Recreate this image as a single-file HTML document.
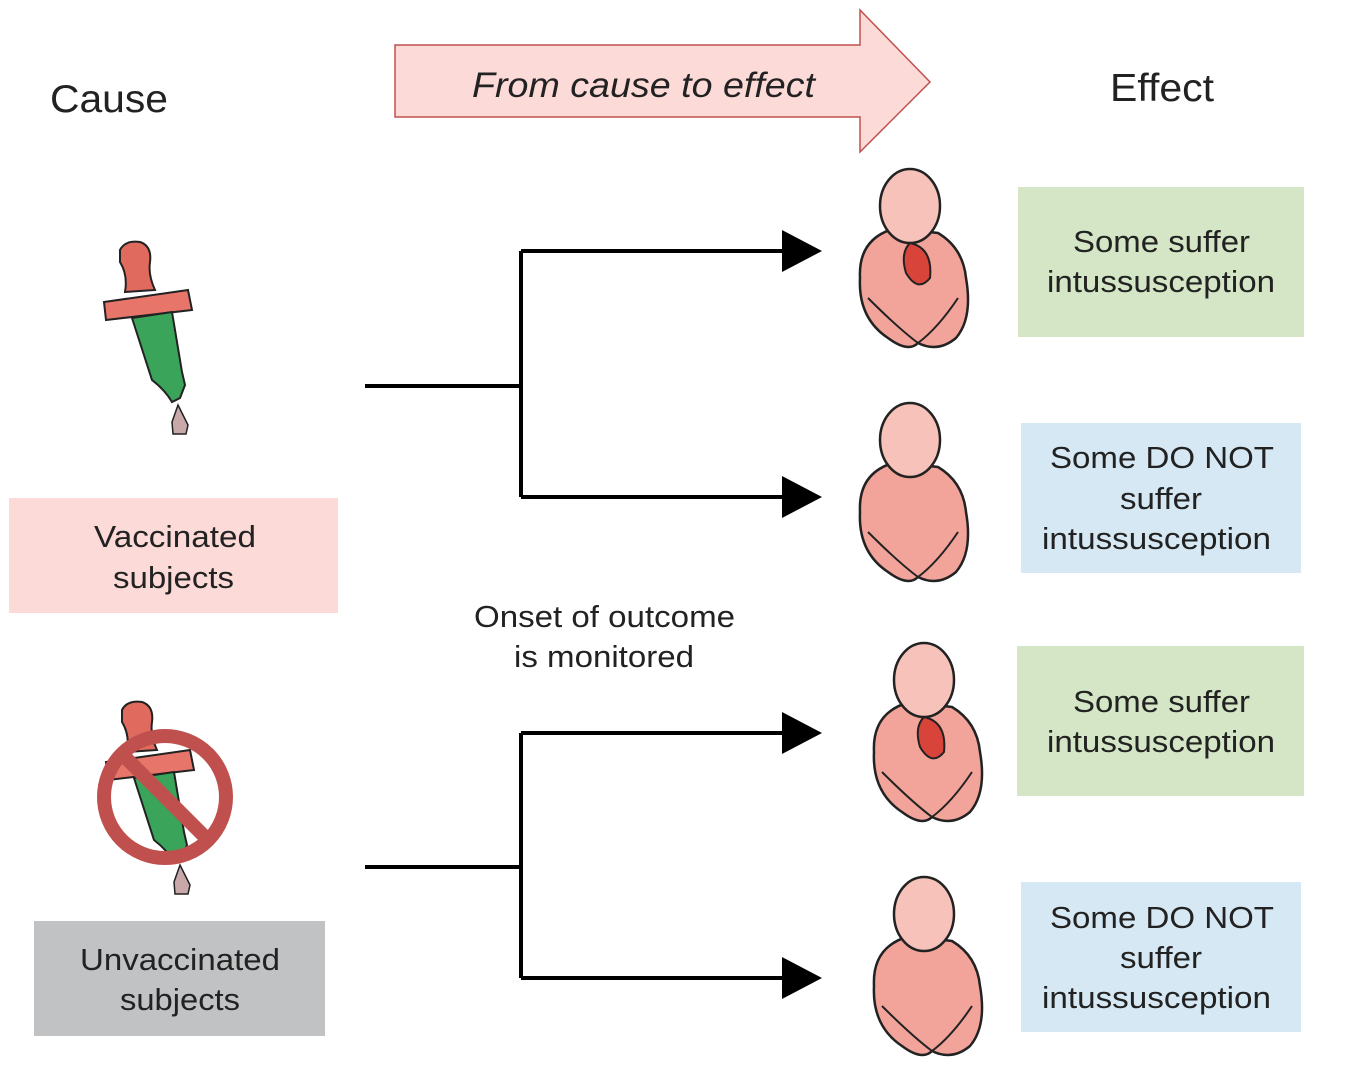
<!DOCTYPE html>
<html><head><meta charset="utf-8"><style>
html,body{margin:0;padding:0;background:#fff}
svg{display:block}
text{font-family:"Liberation Sans",sans-serif;fill:#222}
</style></head><body>
<svg width="1366" height="1083" viewBox="0 0 1366 1083" xmlns="http://www.w3.org/2000/svg">
<defs>
<g id="dropper">
  <path d="M120,250 Q125,240 140,242 Q152,246 150,262 Q148,275 155,290 L125,292 Q128,275 120,262 Z" fill="#e06a5e" stroke="#222" stroke-width="2"/>
  <path d="M104,302 L188,290 L192,310 L106,320 Z" fill="#e8756a" stroke="#222" stroke-width="2"/>
  <path d="M132,318 L172,312 L182,372 L185,385 L180,398 L172,402 Q165,390 152,380 Z" fill="#3aa45a" stroke="#222" stroke-width="2"/>
  <path d="M178,405 L188,425 L186,434 L173,434 L172,422 Z" fill="#c8a8a8" stroke="#222" stroke-width="1.5"/>
</g>
<g id="baby">
  <path d="M58,60 Q20,70 22,110 Q20,150 50,170 Q70,185 80,175 Q100,185 118,170 Q135,150 128,110 Q125,80 100,65 Z" fill="#f2a49a" stroke="#222" stroke-width="2.5"/>
  <ellipse cx="72" cy="38" rx="30" ry="37" fill="#f6c2ba" stroke="#222" stroke-width="2.5"/>
  <path d="M30,130 Q60,160 80,175 Q100,160 120,130" fill="none" stroke="#222" stroke-width="2"/>
</g>
</defs>

<path d="M395,45 L860,45 L860,10 L930,82 L860,152 L860,117 L395,117 Z" fill="#fbdad8" stroke="#c0504d" stroke-width="1.5"/>
<text x="472" y="97" font-size="35" font-style="italic" textLength="343" lengthAdjust="spacingAndGlyphs">From cause to effect</text>
<text x="50" y="112" font-size="39" textLength="118" lengthAdjust="spacingAndGlyphs">Cause</text>
<text x="1110" y="101" font-size="39" textLength="104" lengthAdjust="spacingAndGlyphs">Effect</text>

<use href="#dropper"/>
<g transform="translate(2,460)"><use href="#dropper"/></g>
<circle cx="165" cy="797" r="61" fill="none" stroke="#c0504d" stroke-width="14"/>
<line x1="122" y1="754" x2="208" y2="840" stroke="#c0504d" stroke-width="14"/>

<rect x="9" y="498" width="329" height="115" fill="#fbdad8"/>
<text x="94" y="547" font-size="31" textLength="162" lengthAdjust="spacingAndGlyphs">Vaccinated</text>
<text x="113" y="588" font-size="31" textLength="121" lengthAdjust="spacingAndGlyphs">subjects</text>
<rect x="34" y="921" width="291" height="115" fill="#c0c2c3"/>
<text x="80" y="970" font-size="31" textLength="200" lengthAdjust="spacingAndGlyphs">Unvaccinated</text>
<text x="120" y="1010" font-size="31" textLength="120" lengthAdjust="spacingAndGlyphs">subjects</text>

<g stroke="#000" stroke-width="4" fill="none">
<path d="M365,386 H521 M521,251 V497 M521,251 H790 M521,497 H790"/>
<path d="M365,867 H521 M521,733 V978 M521,733 H790 M521,978 H790"/>
</g>
<g fill="#000">
<path d="M782,230 L822,251 L782,272 Z"/>
<path d="M782,476 L822,497 L782,518 Z"/>
<path d="M782,712 L822,733 L782,754 Z"/>
<path d="M782,957 L822,978 L782,999 Z"/>
</g>
<text x="474" y="627" font-size="31" textLength="261" lengthAdjust="spacingAndGlyphs">Onset of outcome</text>
<text x="514" y="667" font-size="31" textLength="180" lengthAdjust="spacingAndGlyphs">is monitored</text>

<g transform="translate(838,168)"><use href="#baby"/><path d="M72,75 Q95,80 92,110 Q80,125 68,105 Q62,85 72,75Z" fill="#d9443a" stroke="#222" stroke-width="2"/></g>
<g transform="translate(838,402)"><use href="#baby"/></g>
<g transform="translate(852,642)"><use href="#baby"/><path d="M72,75 Q95,80 92,110 Q80,125 68,105 Q62,85 72,75Z" fill="#d9443a" stroke="#222" stroke-width="2"/></g>
<g transform="translate(852,876)"><use href="#baby"/></g>

<rect x="1018" y="187" width="286" height="150" fill="#d4e6c5"/>
<text x="1073" y="252" font-size="31" textLength="177" lengthAdjust="spacingAndGlyphs">Some suffer</text>
<text x="1047" y="292" font-size="31" textLength="228" lengthAdjust="spacingAndGlyphs">intussusception</text>
<rect x="1021" y="423" width="280" height="150" fill="#d6e8f3"/>
<text x="1050" y="468" font-size="31" textLength="224" lengthAdjust="spacingAndGlyphs">Some DO NOT</text>
<text x="1120" y="509" font-size="31" textLength="82" lengthAdjust="spacingAndGlyphs">suffer</text>
<text x="1042" y="549" font-size="31" textLength="229" lengthAdjust="spacingAndGlyphs">intussusception</text>
<rect x="1017" y="646" width="287" height="150" fill="#d4e6c5"/>
<text x="1073" y="712" font-size="31" textLength="177" lengthAdjust="spacingAndGlyphs">Some suffer</text>
<text x="1047" y="752" font-size="31" textLength="228" lengthAdjust="spacingAndGlyphs">intussusception</text>
<rect x="1021" y="882" width="280" height="150" fill="#d6e8f3"/>
<text x="1050" y="928" font-size="31" textLength="224" lengthAdjust="spacingAndGlyphs">Some DO NOT</text>
<text x="1120" y="968" font-size="31" textLength="82" lengthAdjust="spacingAndGlyphs">suffer</text>
<text x="1042" y="1008" font-size="31" textLength="229" lengthAdjust="spacingAndGlyphs">intussusception</text>
</svg>
</body></html>
